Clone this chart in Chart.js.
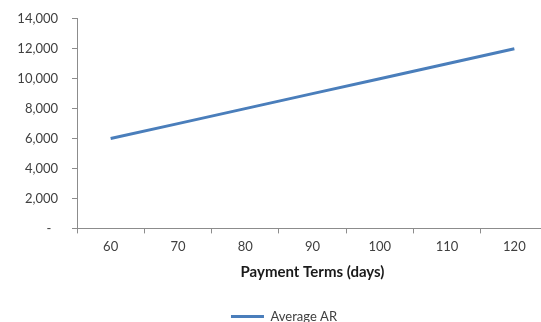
<!DOCTYPE html>
<html>
<head>
<meta charset="utf-8">
<script src="https://cdn.jsdelivr.net/npm/chart.js@4/dist/chart.umd.min.js"></script>
<style>
html,body{margin:0;padding:0;background:#fff;overflow:hidden;width:541px;height:322px;}
#wrap{position:absolute;left:0;top:0;width:576px;height:333px;}
canvas{display:block;}
</style>
</head>
<body>
<div id="wrap"><canvas id="c" width="576" height="333" style="width:576px;height:333px"></canvas></div>
<script>
const categories = ['60','70','80','90','100','110','120'];
const averageAR = [6000, 7000, 8000, 9000, 10000, 11000, 12000];
const seriesName = 'Average AR';
const xTitle = 'Payment Terms (days)';
const yMin = 0, yMax = 14000, yStep = 2000;

const axisColor = '#8c8c8c';
const textColor = '#404040';
const lineColor = '#4a7ebb';
const fontFamily = 'Lato, "Open Sans", "Liberation Sans", sans-serif';

const legendShift = {
  id: 'legendShift',
  afterLayout(chart) {
    const lg = chart.legend;
    if (lg) { lg.left += 10; lg.right += 10; }
  }
};

new Chart(document.getElementById('c'), {
  type: 'line',
  data: {
    labels: categories,
    datasets: [{
      label: seriesName,
      data: averageAR,
      borderColor: lineColor,
      backgroundColor: lineColor,
      borderWidth: 3,
      pointRadius: 0,
      tension: 0,
      fill: false
    }]
  },
  plugins: [legendShift],
  options: {
    responsive: false,
    devicePixelRatio: 1,
    animation: false,
    layout: { padding: { top: 0, right: 28, left: 0, bottom: 0 } },
    plugins: {
      tooltip: { enabled: false },
      legend: {
        position: 'bottom',
        labels: {
          boxWidth: 33,
          boxHeight: 3,
          color: textColor,
          font: { family: fontFamily, size: 13 },
          padding: 8,
          generateLabels: chart => Chart.defaults.plugins.legend.labels.generateLabels(chart).map(l => Object.assign(l, { lineWidth: 0, strokeStyle: 'rgba(0,0,0,0)' }))
        }
      }
    },
    scales: {
      x: {
        type: 'category',
        offset: true,
        grid: { display: true, drawOnChartArea: false, offset: true, color: axisColor, tickLength: 5 },
        border: { color: axisColor, width: 1 },
        ticks: { color: textColor, font: { family: fontFamily, size: 13 }, padding: 6, maxRotation: 0 },
        title: { display: true, text: xTitle, color: '#1a1a1a', font: { family: fontFamily, size: 15, weight: 'bold' }, padding: { top: 2, bottom: 21 } }
      },
      y: {
        min: yMin, max: yMax,
        afterFit: s => { s.width = 77; s.paddingTop = Math.max(0, s.paddingTop - 3); },
        grid: { display: true, drawOnChartArea: false, color: axisColor, tickLength: 5 },
        border: { color: axisColor, width: 1 },
        ticks: {
          stepSize: yStep,
          color: textColor,
          font: { family: fontFamily, size: 13 },
          padding: 14,
          callback: v => v === 0 ? '-  ' : v.toLocaleString('en-US')
        }
      }
    }
  }
});
</script>
</body>
</html>
